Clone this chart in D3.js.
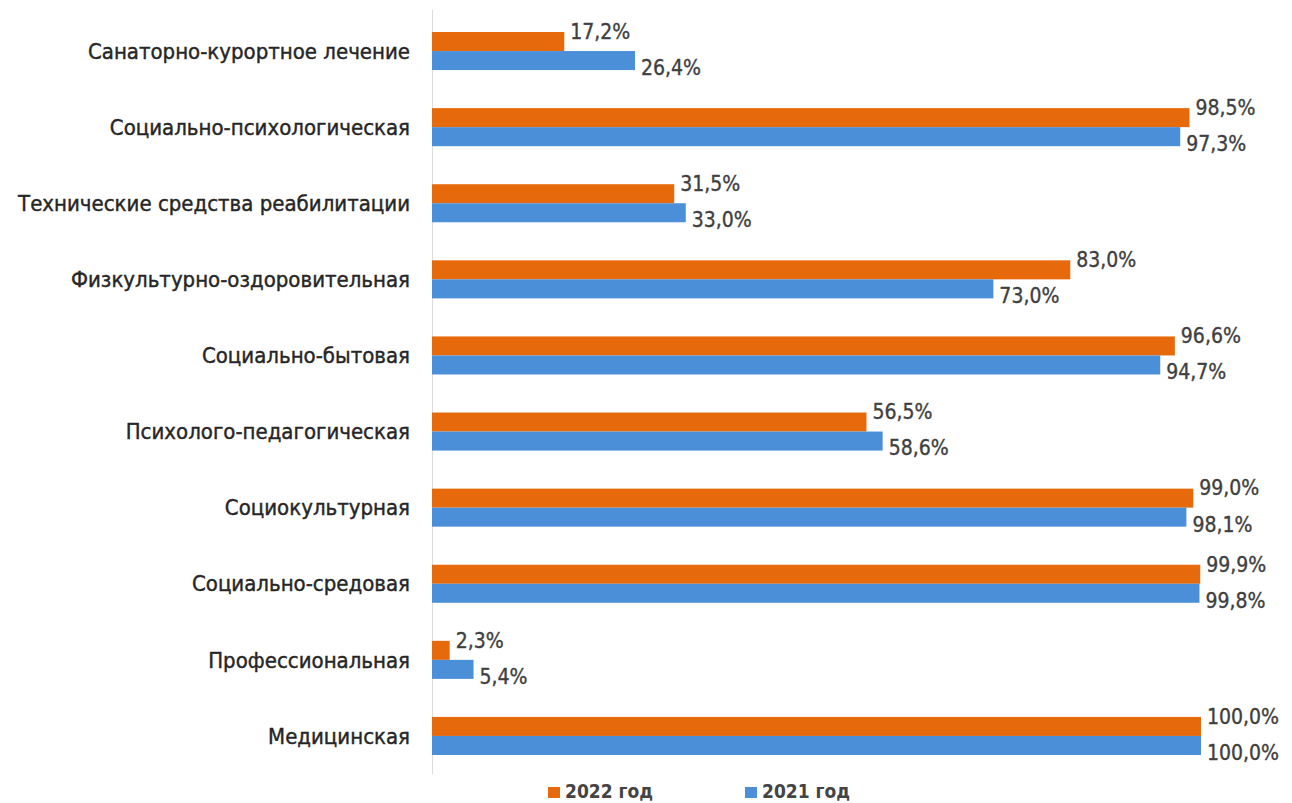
<!DOCTYPE html>
<html><head><meta charset="utf-8">
<script src="https://cdn.jsdelivr.net/npm/d3@7"></script>
<style>
html,body{margin:0;padding:0;background:#fff;}
svg{display:block;}
</style></head>
<body>
<svg id="chart" width="1292" height="803"></svg>
<script>
const categories = [
  "Санаторно-курортное лечение",
  "Социально-психологическая",
  "Технические средства реабилитации",
  "Физкультурно-оздоровительная",
  "Социально-бытовая",
  "Психолого-педагогическая",
  "Социокультурная",
  "Социально-средовая",
  "Профессиональная",
  "Медицинская"
];
const values2022 = [17.2, 98.5, 31.5, 83.0, 96.6, 56.5, 99.0, 99.9, 2.3, 100.0];
const values2021 = [26.4, 97.3, 33.0, 73.0, 94.7, 58.6, 98.1, 99.8, 5.4, 100.0];
const seriesNames = ["2022 год", "2021 год"];
const colors = ["#E66A0C", "#4A8FD8"];

const FONT = "'DejaVu Sans Condensed', 'DejaVu Sans', sans-serif";
const svg = d3.select("#chart");
const x = d3.scaleLinear().domain([0, 100]).range([432, 1201]);
const y = d3.scaleBand().domain(categories).range([13, 774]).paddingInner(0.5).paddingOuter(0.25);
const inner = d3.scaleBand().domain(seriesNames).range([0, y.bandwidth()]);

// axis line
svg.append("line").attr("x1", 432.5).attr("x2", 432.5).attr("y1", 10).attr("y2", 774)
  .attr("stroke", "#dcdcdc").attr("stroke-width", 1);

const fmt = v => v.toFixed(1).replace(".", ",") + "%";
const series = [values2022, values2021];

series.forEach((vals, si) => {
  const g = svg.append("g");
  g.selectAll("rect").data(categories).join("rect")
    .attr("x", x(0))
    .attr("y", (c) => y(c) + inner(seriesNames[si]))
    .attr("width", (c, i) => x(vals[i]) - x(0))
    .attr("height", inner.bandwidth())
    .attr("fill", colors[si]);
  g.selectAll("text").data(categories).join("text")
    .attr("x", (c, i) => x(vals[i]) + 6)
    .attr("y", (c) => y(c) + inner(seriesNames[si]) + inner.bandwidth() / 2 + (si === 0 ? -10 : 7))
    .attr("dy", "0.35em")
    .attr("font-family", FONT)
    .attr("font-size", 21)
    .attr("fill", "#3f3f3f")
    .attr("stroke", "#3f3f3f").attr("stroke-width", 0.35)
    .text((c, i) => fmt(vals[i]));
});

// category labels
svg.append("g").selectAll("text").data(categories).join("text")
  .attr("x", 410)
  .attr("y", c => y(c) + y.bandwidth() / 2)
  .attr("dy", "0.35em")
  .attr("text-anchor", "end")
  .attr("font-family", FONT)
  .attr("font-size", 22)
  .attr("fill", "#262626")
  .attr("stroke", "#262626").attr("stroke-width", 0.4)
  .text(c => c);

// legend
const legend = svg.append("g");
const legX = [548, 745];
seriesNames.forEach((n, i) => {
  legend.append("rect").attr("x", legX[i]).attr("y", 787).attr("width", 12).attr("height", 11).attr("fill", colors[i]);
  legend.append("text").attr("x", legX[i] + 17).attr("y", 798)
    .attr("font-family", FONT)
    .attr("font-size", 19).attr("font-weight", "bold").attr("fill", "#444").text(n);
});
</script>
</body></html>
